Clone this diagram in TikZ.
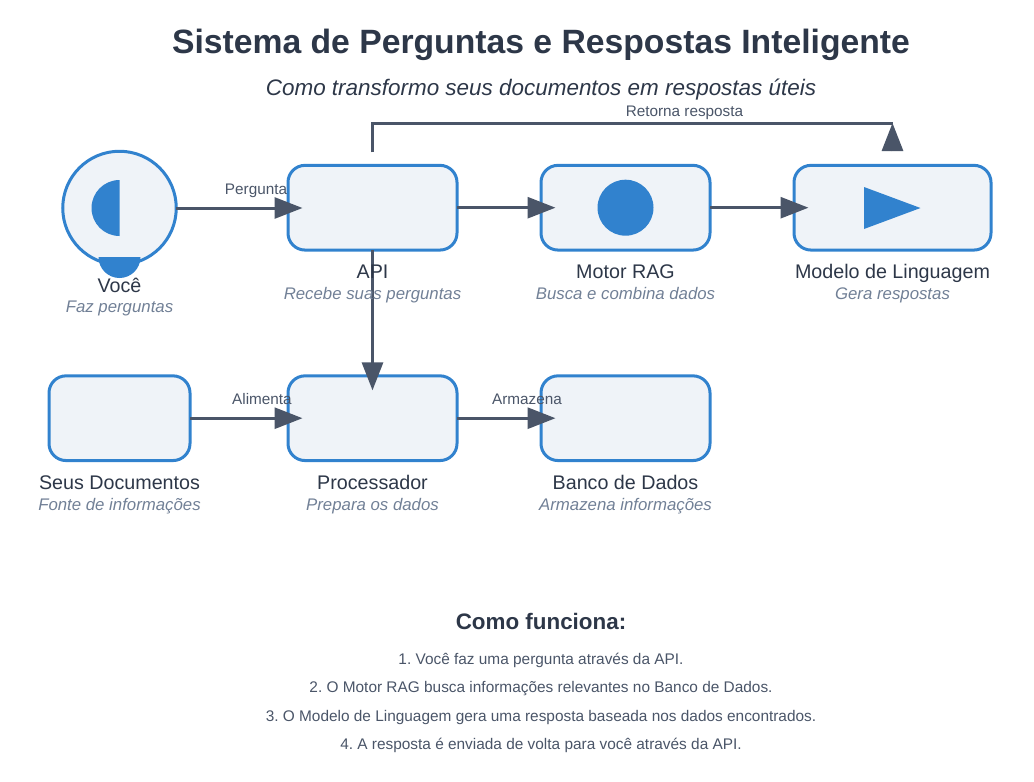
\documentclass[tikz,border=0pt]{standalone}
\usepackage{fontspec}
\setmainfont{Liberation Sans}
\usetikzlibrary{arrows.meta,calc}
\definecolor{ink}{HTML}{2D3748}
\definecolor{flowc}{HTML}{4A5568}
\definecolor{subc}{HTML}{718096}
\definecolor{accent}{HTML}{3182CE}
\definecolor{pale}{HTML}{EFF3F8}
\tikzset{
  stepbox/.style={draw=accent,fill=pale,line width=3pt,rounded corners=17pt,outer sep=0pt,inner sep=0pt,minimum height=84.7pt},
  person/.style={draw=accent,fill=pale,line width=3pt,circle,outer sep=0pt,inner sep=0pt,minimum size=113.5pt},
  iconfill/.style={fill=accent,draw=none},
  flow/.style={draw=flowc,line width=3pt,-{Triangle[length=28pt,width=21pt]}},
  plainflow/.style={draw=flowc,line width=3pt},
  txt/.style={anchor=base,inner sep=0pt,outer sep=0pt},
  titletxt/.style={txt,text=ink,font=\fontsize{33.7}{40}\selectfont\bfseries},
  subtitletxt/.style={txt,text=ink,font=\fontsize{22.45}{26}\selectfont\itshape},
  nametxt/.style={txt,text=ink,font=\fontsize{19.7}{23}\selectfont},
  desctxt/.style={txt,text=subc,font=\fontsize{16.8}{20}\selectfont\itshape},
  edgetxt/.style={txt,text=flowc,font=\fontsize{15.3}{18}\selectfont},
  headtxt/.style={txt,text=ink,font=\fontsize{22.4}{26}\selectfont\bfseries},
  itemtxt/.style={txt,text=flowc,font=\fontsize{15.4}{18}\selectfont},
}
\begin{document}
\frenchspacing
\begin{tikzpicture}[x=1pt,y=-1pt]
\useasboundingbox (0,0) rectangle (1034,782);
\node[person] (you) at (119.5,208) {};
\node[stepbox,minimum width=169pt] (api) at (372.5,207.7) {};
\node[stepbox,minimum width=169pt] (rag) at (625.5,207.7) {};
\node[stepbox,minimum width=197pt] (model) at (892.5,207.7) {};
\node[stepbox,minimum width=141pt] (docs) at (119.5,418.2) {};
\node[stepbox,minimum width=169pt] (proc) at (372.5,418.2) {};
\node[stepbox,minimum width=169pt] (db) at (625.5,418.2) {};
% icons
\fill[iconfill] (119.5,236) arc[start angle=90,end angle=270,radius=28] -- cycle;
\fill[iconfill] (98.5,257) arc[start angle=180,end angle=0,radius=21] -- cycle;
\fill[iconfill] (rag.center) circle[radius=28];
\fill[iconfill] (864,187) -- (920.5,208) -- (864,229) -- cycle;
% connectors
\coordinate (loopL) at (372.5,123);
\coordinate (loopR) at (892.5,123);
\draw[flow,shorten >=-14.5pt] (you.east) -- (you.east -| api.west);
\draw[flow,shorten >=-14.5pt] (api.east) -- (rag.west);
\draw[flow,shorten >=-14.5pt] (rag.east) -- (rag.east -| model.west);
\draw[flow,shorten >=-14.5pt] (docs.east) -- (proc.west);
\draw[flow,shorten >=-14.5pt] (proc.east) -- (db.west);
\draw[flow,shorten >=-14.5pt] (api.south) -- (proc.north);
\draw[plainflow,line join=miter,shorten <=13pt] (api.north) -- (loopL) -- (loopR);
\draw[flow,shorten <=14pt] (model.north) -- (loopR);
% text
\node[titletxt] (t1) at (541,53) {Sistema de Perguntas e Respostas Inteligente};
\node[subtitletxt] (t2) at (541,95) {Como transformo seus documentos em respostas úteis};
\node[edgetxt] (e1) at (684.5,116) {Retorna resposta};
\node[edgetxt] (e2) at (256,194) {Pergunta};
\node[edgetxt] (e3) at (262,404) {Alimenta};
\node[edgetxt] (e4) at (527,404) {Armazena};
\node[nametxt] (n1) at (119.5,292) {Você};
\node[desctxt] (d1) at (119.5,312.5) {Faz perguntas};
\node[nametxt] (n2) at (372.5,278) {API};
\node[desctxt] (d2) at (372.5,299) {Recebe suas perguntas};
\node[nametxt] (n3) at (625.5,278) {Motor RAG};
\node[desctxt] (d3) at (625.5,299) {Busca e combina dados};
\node[nametxt] (n4) at (892.5,278) {Modelo de Linguagem};
\node[desctxt] (d4) at (892.5,299) {Gera respostas};
\node[nametxt] (n5) at (119.5,489) {Seus Documentos};
\node[desctxt] (d5) at (119.5,510) {Fonte de informações};
\node[nametxt] (n6) at (372.5,489) {Processador};
\node[desctxt] (d6) at (372.5,510) {Prepara os dados};
\node[nametxt] (n7) at (625.5,489) {Banco de Dados};
\node[desctxt] (d7) at (625.5,510) {Armazena informações};
\node[headtxt] (h) at (541,629) {Como funciona:};
\node[itemtxt] (i1) at (541,664) {1. Você faz uma pergunta através da API.};
\node[itemtxt] (i2) at (541,692) {2. O Motor RAG busca informações relevantes no Banco de Dados.};
\node[itemtxt] (i3) at (541,721) {3. O Modelo de Linguagem gera uma resposta baseada nos dados encontrados.};
\node[itemtxt] (i4) at (541,749) {4. A resposta é enviada de volta para você através da API.};
\end{tikzpicture}
\end{document}
